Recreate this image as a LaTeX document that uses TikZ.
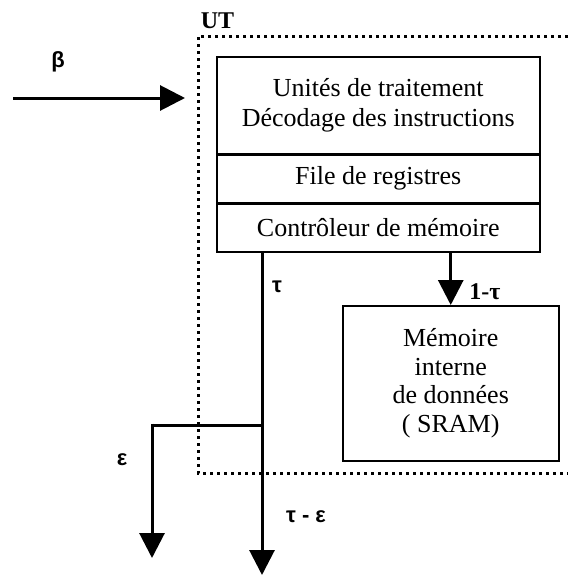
\documentclass[tikz,border=0pt]{standalone}
\usepackage{fontspec}
\setmainfont{Liberation Serif}
\newfontfamily\greekfont{Liberation Sans}
\usetikzlibrary{arrows.meta}
\tikzset{every picture/.style={line width=1.5pt}}
\tikzset{
  bloc/.style={draw, rectangle, anchor=north west, inner sep=0pt, align=center,
    font=\fontsize{26}{30}\selectfont},
  flux/.style={line width=3pt, -{Triangle[length=25pt,width=25pt]}},
  lien/.style={line width=3pt},
  lettre/.style={font=\greekfont\bfseries\fontsize{22}{24}\selectfont, inner sep=0pt},
  cadre/.style={line width=3pt, dash pattern=on 3pt off 4pt}
}

\begin{document}
\begin{tikzpicture}[x=1pt,y=1pt,yscale=-1,xscale=1]
\useasboundingbox (0,0) rectangle (568,576);

%Shape: Dotted frame UT
\draw [cadre] (568,36) -- (198,36) -- (198,473) -- (568,473) ;
% Text Node
\node (ut) [anchor=base west, inner sep=0pt, font=\bfseries\fontsize{24}{26}\selectfont] at (200,28) {UT};

%Shape: Rectangles of the processing unit
\node (unites) [bloc, minimum width=323pt, minimum height=97pt] at (216,56) {Unités de traitement\\Décodage des instructions};
\node (registres) [bloc, minimum width=323pt, minimum height=47pt] at (unites.south west) {File de registres};
\node (ctrl) [bloc, minimum width=323pt, minimum height=48pt] at (registres.south west) {Contrôleur de mémoire};

%Shape: Rectangle internal memory
\node (sram) [bloc, minimum width=216pt, minimum height=155pt, font=\fontsize{26}{28.5}\selectfont] at (342,305) {Mémoire\\interne\\de données\\( SRAM)};

% Coordinates of the free ends
\coordinate (entree) at (13,98);
\coordinate (ut_in) at (185,98);
\coordinate (tau_haut) at (262,253);
\coordinate (branche) at (262,425);
\coordinate (tau_bas) at (262,575);
\coordinate (eps_coin) at (152,425);
\coordinate (eps_bas) at (152,558);

%Straight Lines
\draw [flux] (entree) -- (ut_in) ;
\draw [flux] (ctrl.south -| sram.north) -- (sram.north) ;
\draw [flux] (tau_haut) -- (tau_bas) ;
\draw [lien] (branche) -- (eps_coin) ;
\draw [flux] ([yshift=-1.5pt]eps_coin) -- (eps_bas) ;

% Text Node
\node (beta) [lettre] at (58,62) {β};
% Text Node
\node (tau) [lettre] at (277,287) {τ};
% Text Node
\node (eps) [lettre] at (122,460) {ε};
% Text Node
\node (reste) [lettre] at (306,517) {τ - ε};
% Text Node
\node (un_moins) [inner sep=0pt, font=\bfseries\fontsize{24}{26}\selectfont] at (485,292) {1-τ};

\end{tikzpicture}
\end{document}
